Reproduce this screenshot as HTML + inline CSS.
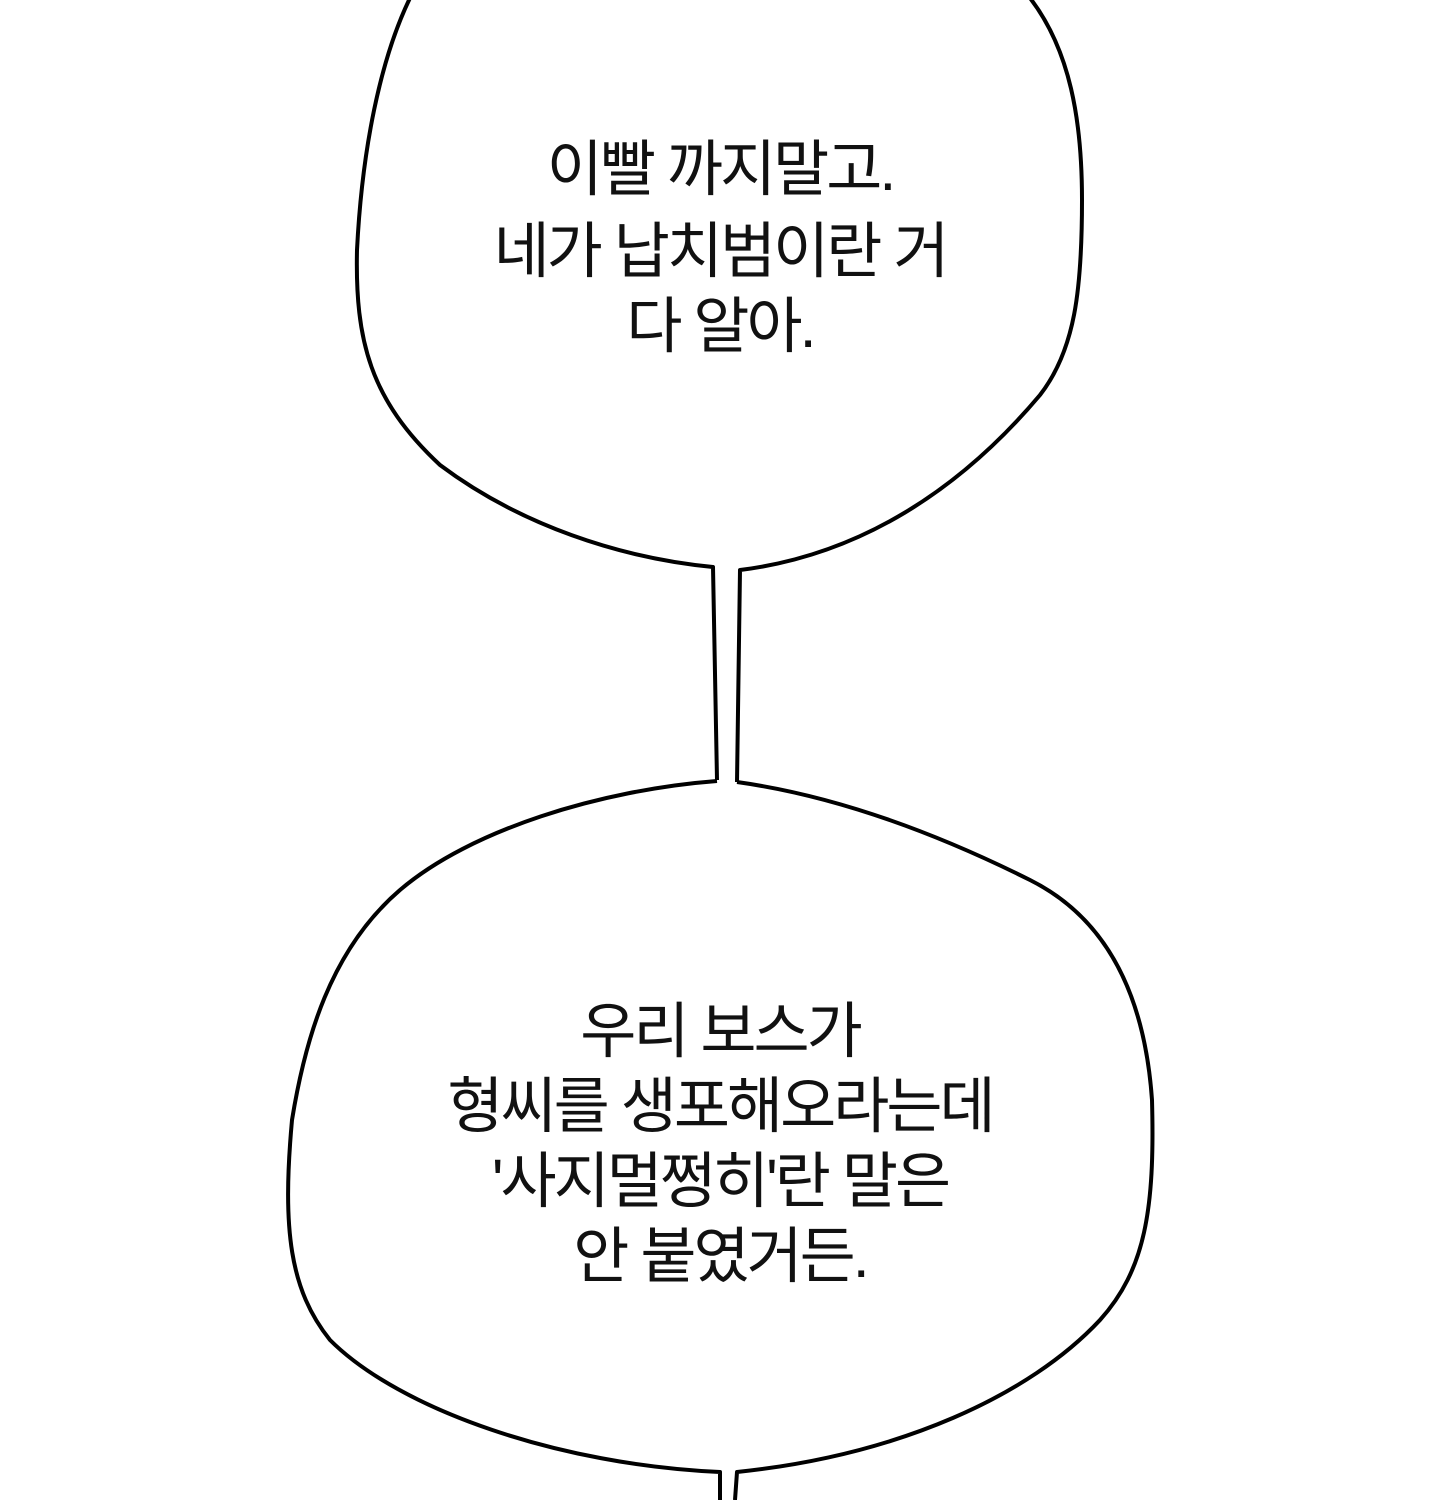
<!DOCTYPE html>
<html><head><meta charset="utf-8"><style>
html,body{margin:0;padding:0;background:#fff;width:1440px;height:1500px;overflow:hidden}
svg{display:block}
text{font-family:"Liberation Sans","Noto Sans CJK KR",sans-serif;font-size:61px;font-weight:400;letter-spacing:-3px;fill:#111}
</style></head><body>
<svg width="1440" height="1500" viewBox="0 0 1440 1500">
<g fill="none" stroke="#000" stroke-width="4" stroke-linejoin="round">
<path d="M410,-2 C380,60 362,150 357,250 C355,340 370,400 440,465 C520,525 620,558 713,567 L717,780"/>
<path d="M1030,-2 C1070,50 1082,120 1082,200 C1082,290 1075,350 1040,395 C960,490 860,555 740,570 L737,782"/>
<path d="M717,781 C600,790 470,830 400,890 C330,950 305,1040 292,1120 C282,1230 290,1290 330,1340 C400,1410 560,1465 720,1472 L720,1500"/>
<path d="M737,782 C830,795 930,830 1030,880 C1110,920 1145,1000 1152,1100 C1155,1210 1145,1270 1100,1320 C1030,1395 900,1455 737,1472 L735,1500"/>
</g>
<g text-anchor="middle">
<text x="720" y="190">이빨 까지말고.</text>
<text x="720" y="272">네가 납치범이란 거</text>
<text x="720" y="347">다 알아.</text>
<text x="720" y="1052">우리 보스가</text>
<text x="720" y="1127">형씨를 생포해오라는데</text>
<text x="720" y="1202">'사지멀쩡히'란 말은</text>
<text x="720" y="1277">안 붙였거든.</text>
</g>
</svg>
</body></html>
